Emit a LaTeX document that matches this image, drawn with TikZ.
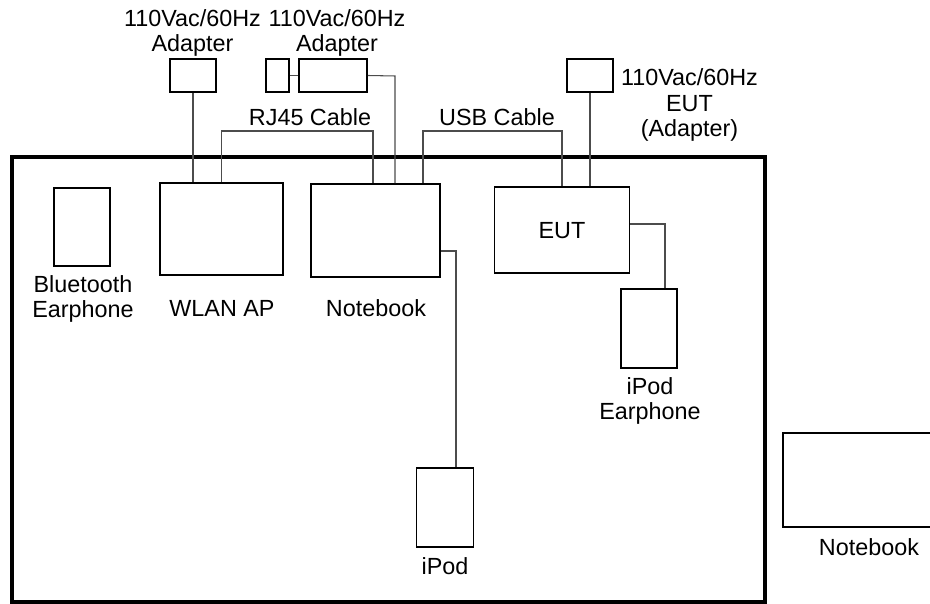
\documentclass[tikz,border=0pt]{standalone}
\usepackage{fontspec}
\setmainfont{Liberation Sans}

\begin{document}
\begin{tikzpicture}[x=0.02cm,y=-0.02cm,
  box/.style={draw,line width=1.1pt,inner sep=0pt},
  cable/.style={draw=black!70,line width=0.6pt},
  lbl/.style={align=center,inner sep=0pt,font=\fontsize{13.3}{14.7}\selectfont}]
  \useasboundingbox (0,0) rectangle (930,604);
  % table
  \draw[line width=2.3pt] (12,157) rectangle (765,602);
  % equipment on the table
  \node[box,minimum width=1.12cm,minimum height=1.56cm] (bt) at (82,227) {};
  \node[box,minimum width=2.46cm,minimum height=1.84cm] (wlan) at (221.5,229) {};
  \node[box,minimum width=2.58cm,minimum height=1.86cm] (nb) at (375.5,230.5) {};
  \node[box,minimum width=2.70cm,minimum height=1.72cm] (eut) at (562,230) {};
  \node[box,minimum width=1.12cm,minimum height=1.58cm] (ipe) at (649,328.5) {};
  \node[box,minimum width=1.14cm,minimum height=1.58cm] (ipod) at (445,507.5) {};
  \node[box,minimum width=3.44cm,minimum height=1.88cm] (nb2) at (869,480) {};
  % adapters
  \node[box,minimum width=0.92cm,minimum height=0.66cm] (adp1) at (193,75.5) {};
  \node[box,minimum width=0.46cm,minimum height=0.66cm] (plug) at (277.5,75.5) {};
  \node[box,minimum width=1.36cm,minimum height=0.66cm] (adp2) at (333,75.5) {};
  \node[box,minimum width=0.92cm,minimum height=0.66cm] (adp3) at (590,75.5) {};
  % labels
  \node[lbl] (adp1-l) at (192.5,33) {110Vac/60Hz\\Adapter};
  \node[lbl] (adp2-l) at (337,33) {110Vac/60Hz\\Adapter};
  \node[lbl] (adp3-l) at (689.5,105) {110Vac/60Hz\\EUT\\(Adapter)};
  \node[lbl] (rj-l) at (310,117.5) {RJ45 Cable};
  \node[lbl] (usb-l) at (497,117) {USB Cable};
  \node[lbl] (bt-l) at (83,299) {Bluetooth\\Earphone};
  \node[lbl] (wlan-l) at (222,308.5) {WLAN AP};
  \node[lbl] (nb-l) at (376,308.5) {Notebook};
  \node[lbl] (eut-l) at (562,231) {EUT};
  \node[lbl] (ipe-l) at (650,401) {iPod\\Earphone};
  \node[lbl] (ipod-l) at (445,566) {iPod};
  \node[lbl] (nb2-l) at (869,547) {Notebook};
  % cable bends
  \coordinate (rjL) at (221.5,131);
  \coordinate (rjR) at (373,131);
  \coordinate (usbL) at (423,131);
  \coordinate (usbR) at (562,131);
  \coordinate (pw2) at (395,76);
  \coordinate (ipc) at (456,251);
  \coordinate (ipec) at (665,224);
  % cables
  \draw[cable] (adp1.south) -- (adp1.south |- wlan.north);
  \draw[cable] (plug.east) -- (adp2.west);
  \draw[cable] (adp2.east) -- (pw2) -- (pw2 |- nb.north);
  \draw[cable] (wlan.north) -- (rjL) -- (rjR) -- (rjR |- nb.north);
  \draw[cable] (usbL |- nb.north) -- (usbL) -- (usbR) -- (eut.north);
  \draw[cable] (adp3.south) -- (adp3.south |- eut.north);
  \draw[cable] (nb.east |- ipc) -- (ipc) -- (ipc |- ipod.north);
  \draw[cable] (eut.east |- ipec) -- (ipec) -- (ipec |- ipe.north);
\end{tikzpicture}
\end{document}
